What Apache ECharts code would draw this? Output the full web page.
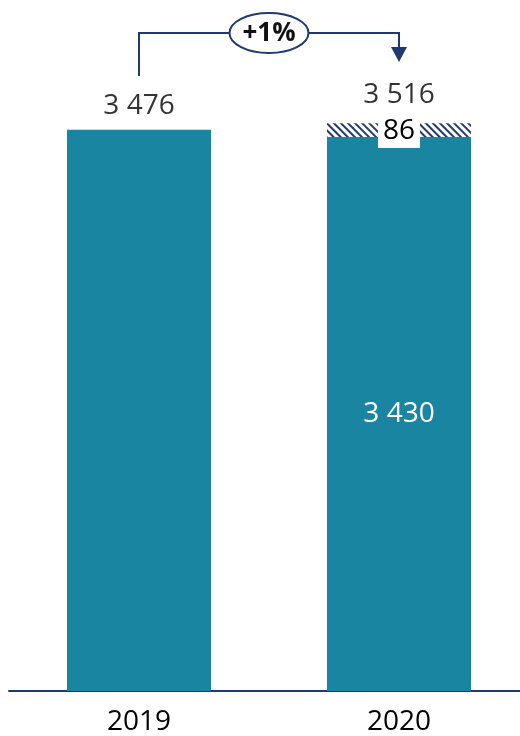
<!DOCTYPE html>
<html>
<head>
<meta charset="utf-8">
<script src="https://cdn.jsdelivr.net/npm/echarts@6/dist/echarts.min.js"></script>
<style>html,body{margin:0;padding:0;background:#fff;}#c{width:520px;height:736px;}</style>
</head>
<body>
<div id="c"></div>
<script>
const categories = ['2019', '2020'];
const baseValues = [3476, 3430];
const hatchValues = [null, 86];
const totals = [3476, 3516];
const changeLabel = '+1%';

const TEAL = '#1a85a0';
const NAVY = '#1f3a6e';
const TEXT = '#000';
const FONT = 'Open Sans';
const FW = 500;
const fmt = v => String(v).replace(/\B(?=(\d{3})+(?!\d))/g, ' ');

const chart = echarts.init(document.getElementById('c'));
chart.setOption({
  animation: false,
  grid: { left: 9, width: 520, top: 45, bottom: 45, outerBoundsMode: 'none', containLabel: false },
  xAxis: {
    type: 'category', data: categories,
    axisLine: { lineStyle: { color: NAVY, width: 2 } },
    axisTick: { show: false },
    axisLabel: { color: TEXT, fontSize: 28, fontFamily: FONT, fontWeight: FW, margin: 17 }
  },
  yAxis: { type: 'value', min: 0, max: 4000, show: false, splitLine: { show: false } },
  series: [
    {
      type: 'bar', stack: 's', barWidth: 144,
      itemStyle: { color: TEAL },
      data: baseValues.map((v, i) => ({
        value: v,
        label: i === 1 ? { show: true, position: 'inside', formatter: fmt(v), color: '#fff', fontSize: 28, fontFamily: FONT, fontWeight: FW } : { show: false }
      }))
    },
    {
      type: 'bar', stack: 's', barWidth: 144,
      itemStyle: {
        color: '#fff',
        decal: { color: NAVY, backgroundColor: '#fff', dashArrayX: [1, 0], dashArrayY: [2, 3], rotation: Math.PI / 4, symbolSize: 1 }
      },
      label: {
        show: true, position: 'inside', offset: [0, 1],
        formatter: p => fmt(p.value),
        color: TEXT, fontSize: 28, fontFamily: FONT, fontWeight: FW,
        backgroundColor: '#fff', padding: [0, 5, 6, 5], lineHeight: 28
      },
      data: hatchValues
    },
    {
      type: 'scatter', symbolSize: 0, silent: true,
      data: totals.map((v, i) => ({
        value: v,
        label: { show: true, position: 'top', distance: i === 0 ? 10 : 14, formatter: fmt(v), color: TEXT, fontSize: 28, fontFamily: FONT, fontWeight: FW }
      }))
    }
  ]
});

const p0 = chart.convertToPixel({ gridIndex: 0 }, [0, totals[0]]);
const p1 = chart.convertToPixel({ gridIndex: 0 }, [1, totals[1]]);
const yLine = 33, yLeftBottom = 76, yTip = 62, headH = 15, headW = 8;
const midX = (p0[0] + p1[0]) / 2;
chart.setOption({
  graphic: [
    { type: 'polyline', shape: { points: [[p0[0], yLeftBottom], [p0[0], yLine], [p1[0], yLine], [p1[0], yTip - headH + 1]] }, style: { stroke: NAVY, lineWidth: 2, fill: null } },
    { type: 'polygon', shape: { points: [[p1[0] - headW, yTip - headH], [p1[0] + headW, yTip - headH], [p1[0], yTip]] }, style: { fill: NAVY } },
    { type: 'ellipse', shape: { cx: midX, cy: yLine, rx: 39.5, ry: 20 }, style: { fill: '#fff', stroke: NAVY, lineWidth: 2 } },
    { type: 'text', x: midX, y: yLine + 1, style: { text: changeLabel, fill: '#111', font: 'bold 26px "Open Sans"', align: 'center', verticalAlign: 'middle' } }
  ]
});
</script>
</body>
</html>
